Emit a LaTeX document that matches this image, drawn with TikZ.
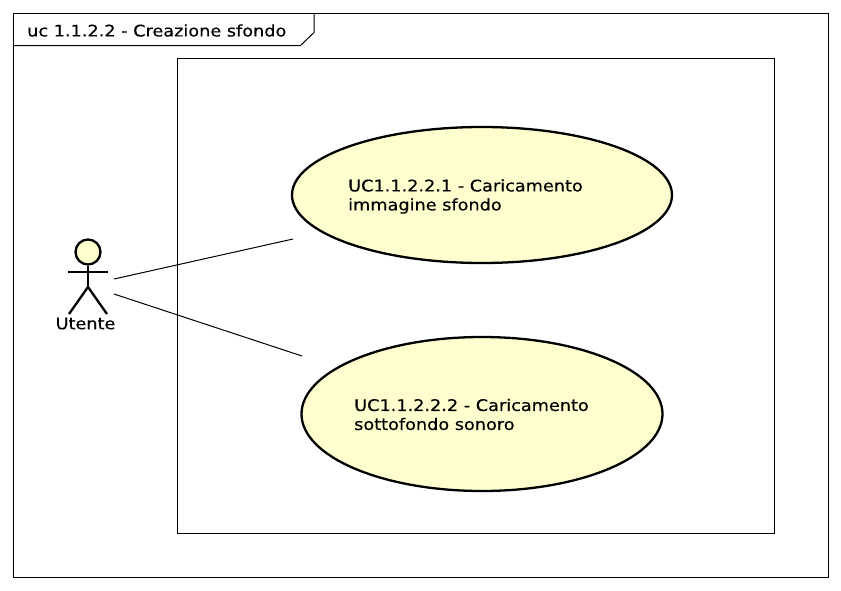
\documentclass[tikz,border=0pt]{standalone}
\usepackage{fontspec}
\setmainfont[FakeStretch=1.105,FakeBold=0.35]{DejaVu Sans}
\usetikzlibrary{shapes.geometric,positioning}
\definecolor{ucfill}{RGB}{254,254,206}
\tikzset{
  usecase/.style={ellipse, draw, line width=2.3pt, fill=ucfill, inner sep=0pt},
  uclabel/.style={anchor=west, align=left, inner sep=0pt, font=\fontsize{16}{19}\selectfont},
  frameline/.style={draw, line width=1pt},
  limb/.style={line width=2.3pt}
}
\begin{document}
\begin{tikzpicture}[x=1pt,y=-1pt]
  \useasboundingbox (0,0) rectangle (841,590);
  % frame and system box
  \node[frameline, minimum width=815pt, minimum height=564pt, inner sep=0pt] (frame) at (421,295.5) {};
  \node[frameline, minimum width=597pt, minimum height=475pt, inner sep=0pt] (system) at (476,295.5) {};
  \draw[line width=1pt] (13.5,45.5) -- (300.5,45.5) -- (314,32.5) -- (314,13.5);
  \node[anchor=west, inner sep=0pt, font=\fontsize{16}{19}\selectfont] (title) at (27,30.5) {uc 1.1.2.2 - Creazione sfondo};
  % use cases
  \node[usecase, minimum width=380pt, minimum height=136pt] (ucA) at (482,195) {};
  \node[usecase, minimum width=361pt, minimum height=154pt] (ucB) at (482,414) {};
  \node[uclabel] (ucAtext) at (348,196.5) {UC1.1.2.2.1 - Caricamento\\immagine sfondo};
  \node[uclabel] (ucBtext) at (354,414.5) {UC1.1.2.2.2 - Caricamento\\sottofondo sonoro};
  % actor
  \node[circle, draw, line width=2.3pt, fill=ucfill, minimum size=25pt, inner sep=0pt] (head) at (88,252) {};
  \coordinate (hip) at (88,287);
  \coordinate (armL) at (68,272);
  \coordinate (armR) at (108,272);
  \coordinate (footL) at (69,314);
  \coordinate (footR) at (107,314);
  \draw[limb] (head.south) -- (hip);
  \draw[limb] (armL) -- (armR);
  \draw[limb] (footL) -- (hip) -- (footR);
  \node[inner sep=0pt, font=\fontsize{16}{19}\selectfont] (utente) at (85.5,323.5) {Utente};
  % associations
  \coordinate (outA) at (114,279);
  \coordinate (inA) at (293,239);
  \coordinate (outB) at (114,294);
  \coordinate (inB) at (302,356);
  \draw[line width=1pt] (outA) -- (inA);
  \draw[line width=1pt] (outB) -- (inB);
\end{tikzpicture}
\end{document}
